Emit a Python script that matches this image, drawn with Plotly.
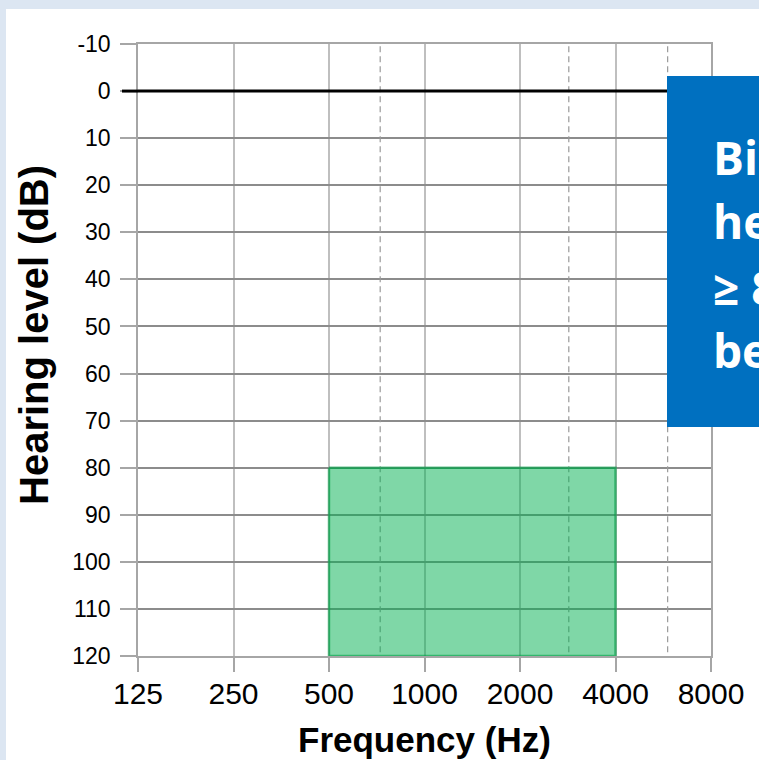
import plotly.graph_objects as go

# ---- data ----
freq_ticks = [125, 250, 500, 1000, 2000, 4000, 8000]
freq_tick_labels = ["125", "250", "500", "1000", "2000", "4000", "8000"]
db_ticks = [-10, 0, 10, 20, 30, 40, 50, 60, 70, 80, 90, 100, 110, 120]
db_tick_labels = ["-10", "0", "10", "20", "30", "40", "50", "60", "70", "80", "90", "100", "110", "120"]
half_octave_freqs = [725, 2850, 5840]   # dashed guide lines
region_freq = [500, 4000]
region_db = [80, 120]
ref_line_freq = [125, 5840]
ref_line_db = [0, 0]
box_lines = ["Bilateral", "hearing loss", "≥ 80 dB in", "better ear"]
x_title = "Frequency (Hz)"
y_title = "Hearing level (dB)"

W, H = 759, 760
ML, MR, MT, MB = 138, 48, 44, 104
PW, PH = W - ML - MR, H - MT - MB


def px_x(px):
    return (px - ML) / PW


def px_y(py):
    return (H - MB - py) / PH


fig = go.Figure()

# dashed guide lines
dx, dy = [], []
for f in half_octave_freqs:
    dx += [f, f, None]
    dy += [db_ticks[0] + 0.5, db_ticks[-1], None]
fig.add_trace(go.Scatter(x=dx, y=dy, mode="lines",
                         line=dict(color="#9a9a9a", width=1.2, dash="6px,4px"),
                         hoverinfo="skip", showlegend=False))

# green region
fig.add_trace(go.Scatter(
    x=[region_freq[0], region_freq[1], region_freq[1], region_freq[0], region_freq[0]],
    y=[region_db[0], region_db[0], region_db[1], region_db[1], region_db[0]],
    mode="lines", fill="toself", fillcolor="rgba(0,176,80,0.5)",
    line=dict(color="rgba(0,160,70,0.6)", width=2.5),
    hoverinfo="skip", showlegend=False))

# reference line at 0 dB
fig.add_trace(go.Scatter(x=ref_line_freq, y=ref_line_db, mode="lines",
                         line=dict(color="black", width=3),
                         hoverinfo="skip", showlegend=False, cliponaxis=False))

shapes = [
    # white panel
    dict(type="rect", xref="paper", yref="paper", x0=px_x(6), x1=px_x(800),
         y0=px_y(800), y1=px_y(9), fillcolor="white", line=dict(width=0), layer="below"),
    # black tick at 0
    dict(type="line", xref="x domain", yref="y", x0=-16 / PW, x1=0,
         y0=ref_line_db[0], y1=ref_line_db[0], line=dict(color="black", width=3)),
    # blue box
    dict(type="rect", xref="paper", yref="paper", x0=px_x(667), x1=px_x(900),
         y0=px_y(427), y1=px_y(76), fillcolor="#0070c0", line=dict(width=0), layer="above"),
]

annotations = []
line_centers = [157, 221, 287, 350]
for txt, cy in zip(box_lines, line_centers):
    annotations.append(dict(text=txt, xref="paper", yref="paper", x=px_x(711), y=px_y(cy),
                            xanchor="left", yanchor="middle", showarrow=False,
                            font=dict(family="Open Sans", size=46, color="white", weight="bold")))

# axis titles
annotations.append(dict(text="<b>%s</b>" % x_title, xref="paper", yref="paper",
                        x=px_x(424), y=px_y(739), xanchor="center", yanchor="middle",
                        showarrow=False, font=dict(family="Liberation Sans", size=35, color="black")))
annotations.append(dict(text="<b>%s</b>" % y_title, xref="paper", yref="paper",
                        x=px_x(34), y=px_y(335), xanchor="center", yanchor="middle",
                        textangle=-90, showarrow=False,
                        font=dict(family="Liberation Sans", size=40, color="black")))

fig.update_layout(
    width=W, height=H,
    margin=dict(l=ML, r=MR, t=MT, b=MB),
    paper_bgcolor="#dce6f2", plot_bgcolor="white",
    shapes=shapes, annotations=annotations,
    font=dict(family="Liberation Sans", color="black"),
)

fig.update_xaxes(
    type="log", range=[2.0969100130080562, 3.9030899869919438],
    tickvals=freq_ticks, ticktext=freq_tick_labels,
    tickfont=dict(size=30), ticklabelstandoff=-4,
    showgrid=True, gridcolor="#bfbfbf", gridwidth=1.5,
    ticks="outside", ticklen=14, tickwidth=1.5, tickcolor="#a6a6a6",
    showline=True, linecolor="#a6a6a6", linewidth=1.5, mirror=True,
    zeroline=False, automargin=False,
)
fig.update_yaxes(
    range=[120, -10], tickvals=db_ticks, ticktext=db_tick_labels,
    tickfont=dict(size=23), ticklabelstandoff=5,
    showgrid=True, gridcolor="#8c8c8c", gridwidth=1.5,
    ticks="outside", ticklen=16, tickwidth=1.5, tickcolor="#a6a6a6",
    showline=True, linecolor="#a6a6a6", linewidth=1.5, mirror=True,
    zeroline=False, automargin=False,
)

fig.write_html("out.html", config={"displayModeBar": False},
               post_script="document.body.style.margin='0';")
